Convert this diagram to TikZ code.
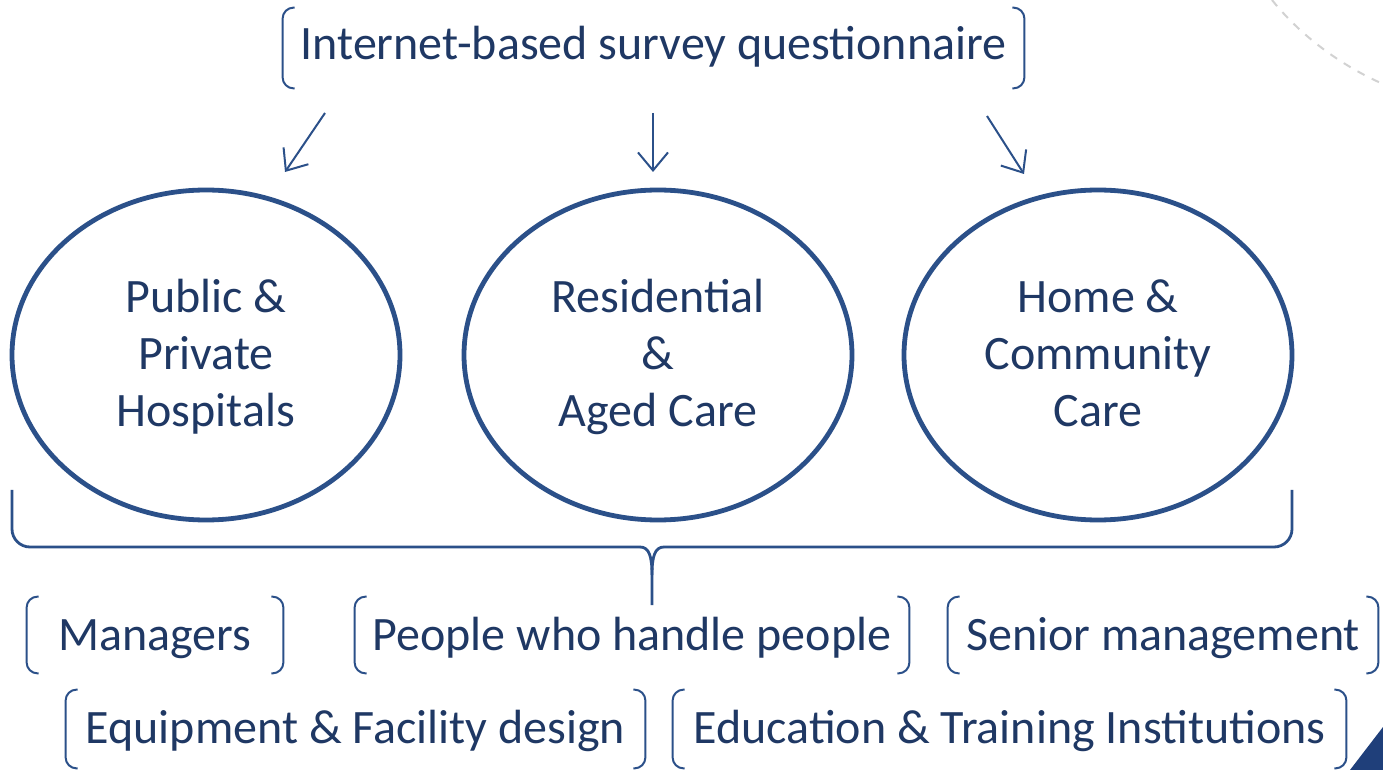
\documentclass[tikz,border=0pt]{standalone}
\usepackage{fontspec}
\setmainfont{Carlito}
\usetikzlibrary{shapes.geometric,arrows.meta}
\definecolor{txt}{HTML}{1F3864}
\definecolor{ln}{HTML}{2B5089}
\definecolor{tri}{HTML}{1F3F7A}
\tikzset{
  lbl/.style={inner sep=0pt, text=txt, font=\fontsize{24}{28}\selectfont, text height=20pt, text depth=5pt},
  circ/.style={ellipse, draw=ln, line width=2.4pt, minimum width=194pt, minimum height=165pt, inner sep=0pt},
  ctext/.style={inner sep=0pt, align=center, text=txt, font=\fontsize{24}{28.5}\selectfont},
  brline/.style={draw=ln, line width=1pt, rounded corners=5.5pt},
  arr/.style={draw=ln, line width=1pt, -{Straight Barb[length=9pt,width=15pt,line width=1pt]}},
  brace/.style={draw=ln, line width=1.4pt},
}
\newcommand{\brk}[1]{%
  \draw[brline] ([xshift=6pt]#1.north west) -- (#1.north west) -- (#1.south west) -- ([xshift=6pt]#1.south west);
  \draw[brline] ([xshift=-6pt]#1.north east) -- (#1.north east) -- (#1.south east) -- ([xshift=-6pt]#1.south east);}
\begin{document}
\begin{tikzpicture}[x=0.5pt,y=-0.5pt]
\useasboundingbox (0,0) rectangle (1383,770);
% decorations
\draw[gray!35, line width=1pt, dash pattern=on 4pt off 4pt] (1272,0) .. controls (1300,35) and (1340,65) .. (1383,84);
\fill[tri] (1350,770) -- (1383,727) -- (1383,770) -- cycle;
% top
\node[lbl, minimum width=370.5pt, minimum height=40pt, text height=17pt, text depth=5pt] (top) at (653.5,48) {Internet-based survey questionnaire};
\brk{top}
% ellipses
\node[circ] (e1) at (206,355) {};
\node[circ] (e2) at (658,355) {};
\node[circ] (e3) at (1098,355) {};
\node[ctext] (t1) at (206,358) {\strut Public \&\\\strut Private\\\strut Hospitals};
\node[ctext] (t2) at (658,358) {\strut Residential\\\strut\&\\\strut Aged Care};
\node[ctext] (t3) at (1098,358) {\strut Home \&\\\strut Community\\\strut Care};
% arrows
\coordinate (a1s) at (325,113); \coordinate (a1e) at (285,172);
\coordinate (a2s) at (653,113); \coordinate (a2e) at (653,172);
\coordinate (a3s) at (987,116); \coordinate (a3e) at (1024,174);
\draw[arr] (a1s) -- (a1e);
\draw[arr] (a2s) -- (a2e);
\draw[arr] (a3s) -- (a3e);
% brace
\coordinate (bl) at (12,490); \coordinate (br) at (1292,490); \coordinate (tip) at (652,605);
\draw[brace, rounded corners=9pt] (bl) -- (12,547) -- (640,547);
\draw[brace] (640,547) .. controls (649,547) and (652,556) .. (652,575) -- (tip);
\draw[brace] (652,575) .. controls (652,556) and (655,547) .. (664,547);
\draw[brace, rounded corners=9pt] (664,547) -- (1292,547) -- (br);
% bottom boxes
\node[lbl, minimum width=128pt, minimum height=38pt] (m) at (155,635) {Managers};
\brk{m}
\node[lbl, minimum width=277pt, minimum height=38pt] (p) at (632,635) {People who handle people};
\brk{p}
\node[lbl, minimum width=215pt, minimum height=38pt] (s) at (1163,635) {Senior management};
\brk{s}
\node[lbl, minimum width=289.5pt, minimum height=39pt, text height=19pt] (eq) at (355.5,729) {Equipment \& Facility design};
\brk{eq}
\node[lbl, minimum width=336.5pt, minimum height=39pt, text height=19pt] (ed) at (1009.5,729) {Education \& Training Institutions};
\brk{ed}
\end{tikzpicture}
\end{document}
